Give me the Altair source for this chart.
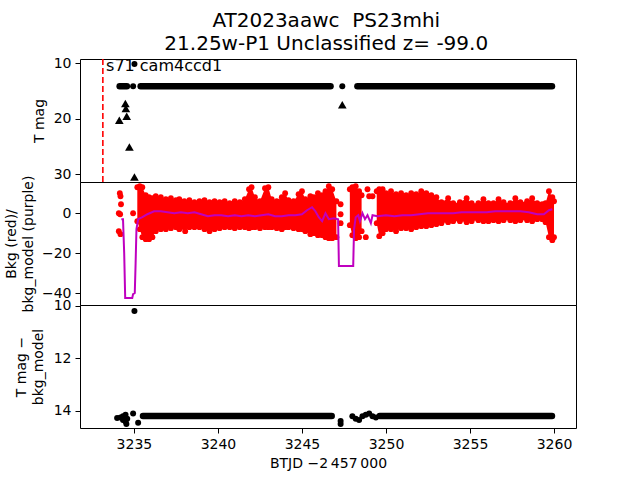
import altair as alt
import pandas as pd

FONT = "DejaVu Sans"

# ---------------- data ----------------
# Top panel: dense detection runs (start, end, mag) and single detections
det_run_t0 = [3234.15, 3235.40, 3248.30]
det_run_t1 = [3234.58, 3246.70, 3259.88]
det_run_mag = [14.2, 14.2, 14.2]
det_pt_t = [3234.95, 3247.40, 3235.03]
det_pt_mag = [14.2, 14.2, 10.2]

# Top panel: upper limits (triangles)
lim_t = [3234.13, 3234.49, 3234.52, 3234.57, 3234.73, 3235.03, 3247.40]
lim_mag = [20.3, 17.3, 18.2, 19.55, 25.1, 30.5, 17.5]

# Reference epoch (red dashed line)
ref_t = [3233.15]
label_t = [3233.34]
label_mag = [11.45]
label_txt = ["s71 cam4ccd1"]

# Middle panel: envelope of the dense red background band
bkg_t = [3235.20, 3235.35, 3235.50, 3235.70, 3235.90, 3236.10, 3236.30, 3236.60, 3236.90,
         3237.20, 3237.50, 3237.70, 3238.00, 3238.30, 3238.60, 3238.90, 3239.20, 3239.50,
         3239.80, 3240.10, 3240.40, 3240.70, 3241.00, 3241.30, 3241.60, 3241.85, 3242.00,
         3242.20, 3242.50, 3242.80, 3243.00, 3243.20, 3243.50, 3243.80, 3244.00, 3244.20,
         3244.50, 3244.80, 3245.00, 3245.20, 3245.50, 3245.70, 3245.95, 3246.20, 3246.40,
         3246.60, 3246.80, 3247.05,
         3247.85, 3248.00, 3248.20, 3248.40, 3248.55,
         3249.45, 3249.60, 3249.80, 3250.00, 3250.30, 3250.60, 3250.90, 3251.20, 3251.50,
         3251.80, 3252.10, 3252.40, 3252.70, 3253.00, 3253.30, 3253.70, 3254.00, 3254.40,
         3254.80, 3255.10, 3255.50, 3255.80, 3256.10, 3256.40, 3256.70, 3257.00, 3257.40,
         3257.70, 3258.00, 3258.40, 3258.70, 3259.00, 3259.30, 3259.50, 3259.70, 3259.90,
         3260.00]
bkg_top = [13.0, 13.5, 13.0, 9.0, 8.0, 7.5, 8.5, 8.0, 7.0,
           7.5, 6.5, 7.0, 6.0, 6.5, 5.5, 6.0, 6.5, 5.5,
           6.0, 5.5, 6.0, 5.0, 6.0, 5.5, 7.0, 12.0, 13.0,
           8.0, 6.0, 12.5, 13.0, 7.0, 6.0, 8.0, 10.0, 6.5,
           6.0, 9.5, 11.0, 7.0, 8.5, 8.0, 10.0, 9.0, 11.0,
           13.5, 12.0, 6.0,
           12.0, 13.0, 13.5, 11.0, 9.0,
           11.0, 12.0, 12.0, 10.0, 11.0, 9.5, 10.0, 9.0, 10.0,
           9.5, 11.0, 10.0, 9.0, 8.0, 5.5, 7.5, 5.0, 5.5,
           7.5, 5.0, 5.0, 7.0, 5.0, 5.0, 7.0, 5.5, 5.0,
           7.5, 5.5, 6.0, 7.5, 5.0, 4.5, 5.0, 11.0, 8.0,
           6.0]
bkg_bot = [-4.0, -8.0, -12.0, -13.0, -13.0, -12.0, -9.0, -8.0, -8.0,
           -7.5, -7.0, -8.0, -7.0, -7.0, -7.0, -7.0, -8.0, -9.0,
           -8.0, -7.5, -7.0, -7.0, -7.5, -7.0, -7.0, -7.5, -7.0,
           -7.0, -7.5, -7.0, -7.0, -7.0, -7.5, -8.0, -7.0, -7.0,
           -7.5, -8.0, -8.0, -9.0, -10.5, -10.0, -11.0, -11.0, -12.0,
           -12.5, -12.5, -12.0,
           -6.0, -11.0, -12.5, -12.0, -9.0,
           -5.0, -11.5, -10.0, -8.0, -8.0, -9.0, -7.5, -7.5, -8.0,
           -7.0, -6.5, -6.5, -6.0, -5.5, -5.0, -4.5, -4.0, -4.0,
           -4.5, -4.0, -3.5, -4.0, -4.0, -3.5, -4.0, -3.5, -3.5,
           -4.0, -3.5, -3.5, -4.0, -3.0, -3.0, -4.5, -12.0, -13.5,
           -12.0]
bkg_run = [1] * 48 + [2] * 5 + [3] * 37

# Middle panel: isolated background points
bkg_pt_t = [3234.16, 3234.20, 3234.23, 3234.10, 3234.18, 3234.10, 3234.20, 3234.95,
            3238.05, 3247.30, 3247.30, 3247.30, 3248.80, 3248.90, 3249.00, 3249.20]
bkg_pt_v = [10.0, 8.5, 4.5, 0.0, -0.5, -9.0, -10.5, 0.0,
            -9.0, 4.5, -0.5, -5.0, -12.0, 12.0, 8.5, 8.5]

# Middle panel: background model (purple line)
mod_t = [3234.25, 3234.35, 3234.42, 3234.48, 3234.90, 3234.95, 3235.05, 3235.10, 3235.15,
         3235.25, 3235.50, 3235.80, 3236.20, 3236.60, 3237.00, 3237.40, 3237.80, 3238.20,
         3238.60, 3239.00, 3239.40, 3239.80, 3240.20, 3240.60, 3241.00, 3241.40, 3241.80,
         3242.20, 3242.60, 3243.00, 3243.40, 3243.80, 3244.20, 3244.60, 3245.00, 3245.30,
         3245.60, 3245.80, 3246.00, 3246.20, 3246.40, 3246.60, 3246.90, 3247.15, 3247.20,
         3248.05, 3248.10, 3248.20, 3248.35, 3248.45, 3248.60, 3248.75, 3248.90, 3249.10,
         3249.20, 3249.50, 3250.00, 3250.50, 3251.00, 3251.50, 3252.00, 3252.50, 3253.00,
         3253.50, 3254.00, 3254.50, 3255.00, 3255.50, 3256.00, 3256.50, 3257.00, 3257.50,
         3258.00, 3258.50, 3259.00, 3259.40, 3259.70, 3259.90]
mod_v = [-3.0, -3.0, -20.0, -42.5, -42.5, -40.5, -40.0, -25.0, -8.0,
         -3.0, -2.0, -0.5, 1.0, 1.0, 0.5, 0.0, 0.5, 0.0,
         0.5, -0.5, -1.5, -1.0, -1.0, -1.5, -1.0, -1.5, -1.0,
         -1.5, -1.0, -0.5, -1.5, -1.5, -1.0, -1.0, -0.5, 1.5,
         3.0, 1.0, -2.0, -4.0, 0.0, -3.0, -2.5, -3.0, -26.5,
         -26.5, -8.0, -2.0, -1.0, -4.0, 0.0, -3.0, -1.0, -5.0,
         -1.0, -1.5, -1.0, -1.5, -1.0, -1.0, -0.5, 0.0, 0.0,
         0.0, 0.0, 0.5, 0.5, 0.5, 0.5, 1.0, 1.0, 1.0,
         1.0, 0.5, -0.5, -0.5, 1.5, 2.0]

# Bottom panel: T mag - bkg_model, dense runs and single points
diff_run_t0 = [3235.54, 3249.63]
diff_run_t1 = [3246.77, 3259.88]
diff_run_mag = [14.19, 14.19]
diff_pt_t = [3234.00, 3234.20, 3234.35, 3234.35, 3234.50, 3234.50, 3234.55, 3234.60,
             3234.95, 3235.25, 3235.03, 3247.30, 3247.30, 3248.00, 3248.20, 3248.40,
             3248.60, 3248.80, 3249.00, 3249.20, 3249.40]
diff_pt_mag = [14.27, 14.25, 14.20, 14.35, 14.15, 14.40, 14.50, 14.30,
               14.10, 14.45, 10.20, 14.38, 14.50, 14.20, 14.30, 14.35,
               14.20, 14.15, 14.10, 14.20, 14.25]

x_ticks = [3235, 3240, 3245, 3250, 3255, 3260]

# ---------------- chart ----------------
W, H = 496, 123
xscale = alt.Scale(domain=[3231.79, 3261.31], nice=False, zero=False)


def X(field, axis=None):
    return alt.X(f"{field}:Q", scale=xscale, axis=axis)


def X2(field):
    return alt.X2(f"{field}:Q")


top_axis = alt.Axis(values=[10, 20, 30], title="T mag", titleX=-41, titleY=H / 2,
                    titleAlign="center", titleBaseline="middle")
top_scale = alt.Scale(domain=[9.28, 31.39], reverse=True, nice=False, zero=False)


def YT(field):
    return alt.Y(f"{field}:Q", scale=top_scale, axis=top_axis)


mid_axis = alt.Axis(values=[-40, -20, 0], title=["Bkg (red)/", "bkg_model (purple)"],
                    titleX=-68.5, titleY=H / 2, titleAlign="center", titleBaseline="middle")
mid_scale = alt.Scale(domain=[-46, 15.65], nice=False, zero=False)


def YM(field):
    return alt.Y(f"{field}:Q", scale=mid_scale, axis=mid_axis)


bot_axis = alt.Axis(values=[10, 12, 14], title=["T mag \u2212", "bkg_model"],
                    titleX=-59, titleY=H / 2, titleAlign="center", titleBaseline="middle")
bot_scale = alt.Scale(domain=[9.97, 14.65], reverse=True, nice=False, zero=False)


def YB(field):
    return alt.Y(f"{field}:Q", scale=bot_scale, axis=bot_axis)


df_ref = pd.DataFrame({"t": ref_t})
df_lab = pd.DataFrame({"t": label_t, "mag": label_mag, "txt": label_txt})
df_run = pd.DataFrame({"t0": det_run_t0, "t1": det_run_t1, "mag": det_run_mag})
df_det = pd.DataFrame({"t": det_pt_t, "mag": det_pt_mag})
df_lim = pd.DataFrame({"t": lim_t, "mag": lim_mag})

top = alt.layer(
    alt.Chart(df_ref).mark_rule(color="#ff0000", strokeDash=[6, 3], strokeWidth=1.6).encode(x=X("t")),
    alt.Chart(df_run).mark_rule(color="black", strokeWidth=6.5, strokeCap="round").encode(
        x=X("t0"), x2=X2("t1"), y=YT("mag")),
    alt.Chart(df_det).mark_circle(color="black", size=36, opacity=1).encode(x=X("t"), y=YT("mag")),
    alt.Chart(df_lim).mark_point(shape="triangle-up", filled=True, color="black", size=75,
                                 opacity=1).encode(x=X("t"), y=YT("mag")),
    alt.Chart(df_lab).mark_text(align="left", baseline="alphabetic", fontSize=16, font=FONT,
                                color="black").encode(x=X("t"), y=YT("mag"), text="txt:N"),
).properties(width=W, height=H)

df_band = pd.DataFrame({"t": bkg_t, "top": bkg_top, "bot": bkg_bot, "run": bkg_run})
df_edge = pd.DataFrame({"t": bkg_t + bkg_t, "v": bkg_top + bkg_bot})
df_bpt = pd.DataFrame({"t": bkg_pt_t, "v": bkg_pt_v})
df_mod = pd.DataFrame({"t": mod_t, "v": mod_v})

mid = alt.layer(
    alt.Chart(df_band).mark_area(color="#ff0000", opacity=1).encode(
        x=X("t"), y=YM("top"), y2=alt.Y2("bot:Q"), detail="run:N"),
    alt.Chart(df_edge).mark_circle(color="#ff0000", size=34, opacity=1).encode(x=X("t"), y=YM("v")),
    alt.Chart(df_bpt).mark_circle(color="#ff0000", size=34, opacity=1).encode(x=X("t"), y=YM("v")),
    alt.Chart(df_mod).mark_line(color="#bf00bf", strokeWidth=2).encode(x=X("t"), y=YM("v")),
).properties(width=W, height=H)

x_axis = alt.Axis(values=x_ticks, format="d", title="BTJD \u22122\u2009457\u2009000",
                  labelFlush=False, titlePadding=5, titleBaseline="top", titleAlign="center")
df_drun = pd.DataFrame({"t0": diff_run_t0, "t1": diff_run_t1, "mag": diff_run_mag})
df_dpt = pd.DataFrame({"t": diff_pt_t, "mag": diff_pt_mag})

bot = alt.layer(
    alt.Chart(df_drun).mark_rule(color="black", strokeWidth=6.5, strokeCap="round").encode(
        x=X("t0", x_axis), x2=X2("t1"), y=YB("mag")),
    alt.Chart(df_dpt).mark_circle(color="black", size=36, opacity=1).encode(
        x=X("t", x_axis), y=YB("mag")),
).properties(width=W, height=H)

chart = alt.vconcat(top, mid, bot, spacing=0, bounds="flush").properties(
    title=alt.TitleParams(
        ["AT2023aawc\u00a0 PS23mhi", "21.25w-P1 Unclassified z= -99.0"],
        font=FONT, fontSize=20, fontWeight="normal", color="black",
        anchor="middle", lineHeight=23, offset=-14, dx=36, baseline="alphabetic",
    ),
    padding={"left": 4, "top": 10, "right": 5, "bottom": 5},
).configure_view(
    stroke="black", strokeWidth=1
).configure_axis(
    labelFont=FONT, labelFontSize=14, labelColor="black", tickColor="black", tickSize=5,
    labelPadding=4, domain=False, grid=False, titleFont=FONT, titleFontSize=14,
    titleFontWeight="normal", titleColor="black", titleLineHeight=17,
).configure_concat(spacing=0)

chart.save("out.html", embed_options={"renderer": "svg", "actions": False})
